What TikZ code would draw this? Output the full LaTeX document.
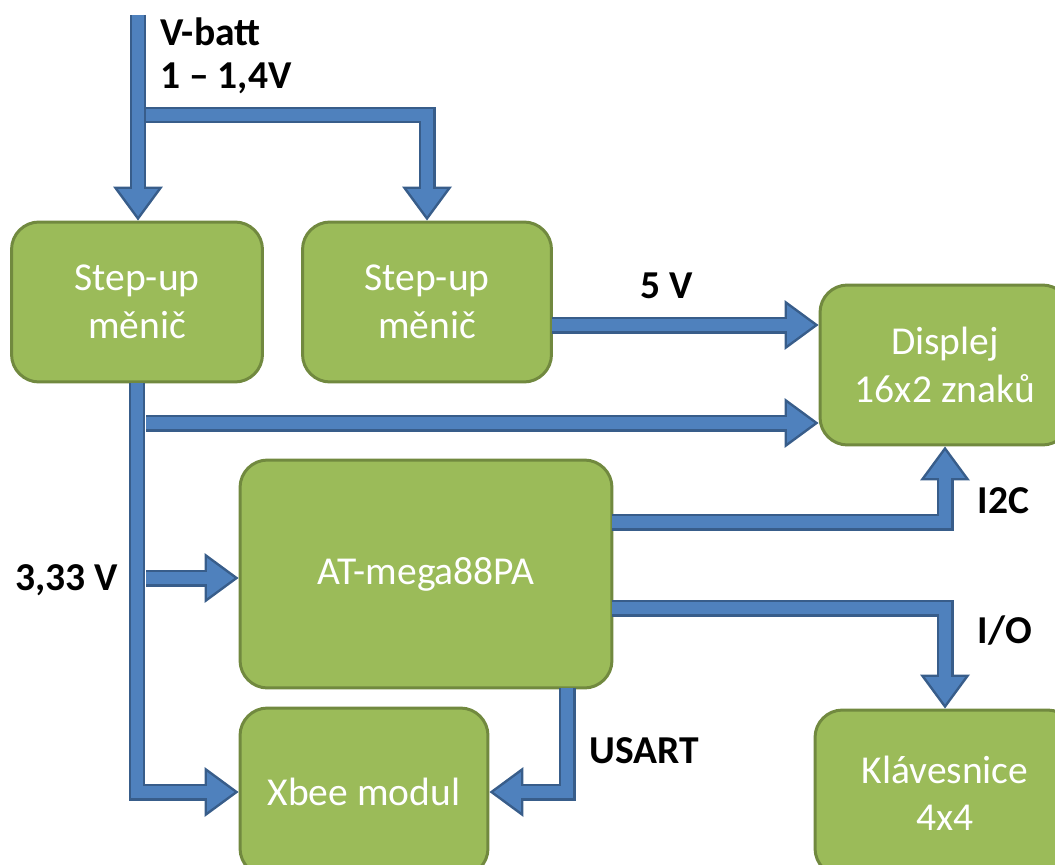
\documentclass[tikz,border=0pt]{standalone}
\usepackage{fontspec}
\setmainfont{Carlito}
\usetikzlibrary{arrows.meta}

\definecolor{boxfill}{HTML}{9BBB59}
\definecolor{boxedge}{HTML}{71893F}
\definecolor{busfill}{HTML}{4F81BD}
\definecolor{busedge}{HTML}{385D8A}

\tikzset{
  blok/.style={draw=boxedge, line width=1.7pt, fill=boxfill, rounded corners=0.55cm,
    text=white, align=center, font=\fontsize{22.5}{27}\selectfont},
  bus/.style={draw=busfill, line width=0.24cm, line join=miter, shorten >=0.085cm,
    -{Triangle[width=0.8cm,length=0.545cm,line width=0pt]},
    preaction={draw=busedge, line width=0.34cm, line join=miter, shorten >=0cm,
      -{Triangle[width=1.0cm,length=0.68cm,line width=0pt]}},
    postaction={draw=busfill, line width=0.24cm, line join=miter, shorten >=0.4cm, arrows=-}},
  popis/.style={font=\fontsize{22.5}{27}\selectfont\bfseries},
}

\begin{document}
\begin{tikzpicture}[x=0.02cm, y=-0.02cm]
	\useasboundingbox (0,0) rectangle (1055,865);
	
	% bloky
	\node[blok, minimum width=5.02cm, minimum height=3.2cm] (menicA) at (137,302) {Step-up\\měnič};
	\node[blok, minimum width=4.98cm, minimum height=3.2cm] (menicB) at (427,302) {Step-up\\měnič};
	\node[blok, minimum width=5.0cm, minimum height=3.2cm] (displej) at (945,365) {Displej\\16x2 znaků};
	\node[blok, minimum width=7.44cm, minimum height=4.56cm] (mcu) at (426,574) {AT-mega88PA};
	\node[blok, minimum width=4.96cm, minimum height=3.36cm] (xbee) at (364,792) {Xbee modul};
	\node[blok, minimum width=5.2cm, minimum height=3.32cm] (klav) at (945,793) {Klávesnice\\4x4};
	
	% body vedeni
	\coordinate (vbat) at (138,15);
	\coordinate (odbA) at (146,115);
	\coordinate (odbD) at (146,423);
	\coordinate (odbM) at (146,578);
	\coordinate (out5) at (552,325);
	\coordinate (outI2C) at (612,522);
	\coordinate (outIO) at (612,608);
	\coordinate (outUS) at (567,688);
	
	% napajeni
	\draw[bus] (vbat) -- (vbat |- menicA.north);
	\draw[bus] (odbA) -| (menicB.north);
	\draw[bus] (menicA.south) |- (xbee.west);
	\draw[bus] (odbD) -- (odbD -| displej.west);
	\draw[bus] (odbM) -- (odbM -| mcu.west);
	\draw[bus] (out5) -- (out5 -| displej.west) node[popis, pos=0.43, above=8pt] {5 V};
	
	% sbernice
	\draw[bus] (outI2C) -| (displej.south) node[popis, pos=0.64, right=12pt] {I2C};
	\draw[bus] (outIO) -| (klav.north) node[popis, pos=0.61, right=12pt] {I/O};
	\draw[bus] (outUS) |- (xbee.east) node[popis, pos=0.3, right=6pt] {USART};
	
	% popisky
	\node[popis, anchor=west] (vbatt) at (154,32) {V-batt};
	\node[popis, anchor=west] (rozsah) at (154,78) {1 – 1,4V};
	\node[popis, anchor=east] (v333) at (124,580) {3,33 V};
\end{tikzpicture}
\end{document}
